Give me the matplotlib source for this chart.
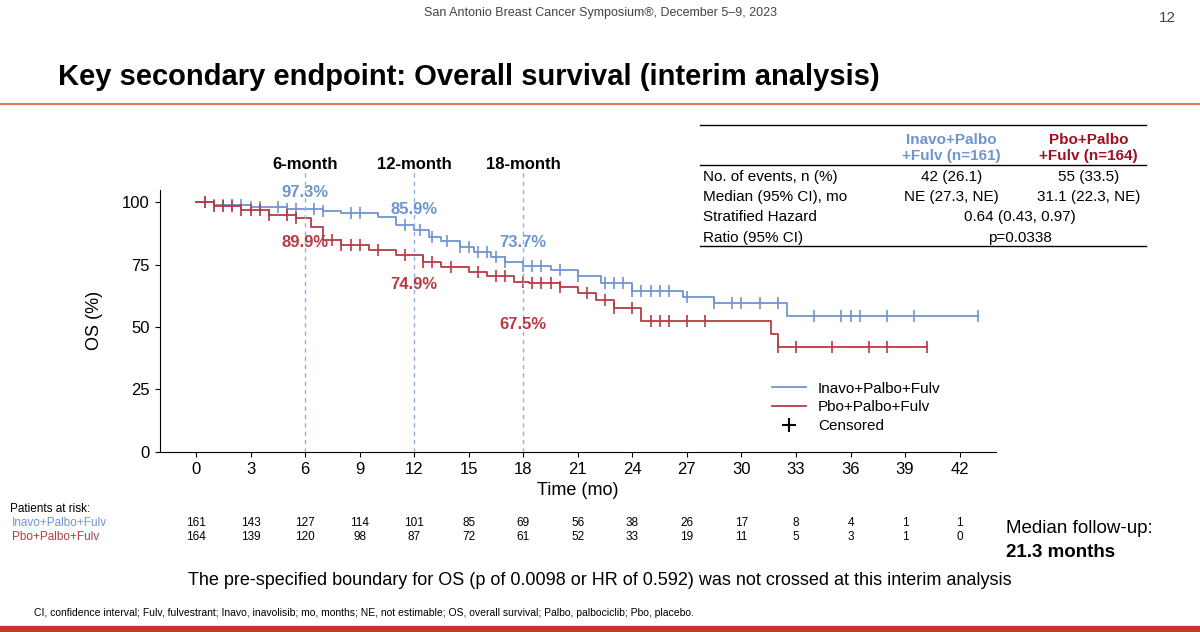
import numpy as np
import matplotlib.pyplot as plt
from matplotlib.lines import Line2D

plt.rcParams["font.family"] = ["Liberation Sans", "DejaVu Sans"]

BLUE = "#6f95cf"
RED = "#b83a44"

# step curves: (time, survival after step)
blue_t = [0, 1, 3, 5, 7, 8, 10, 11, 12, 12.8, 13.5, 14.5, 15.3, 16.2, 17, 18, 19.5, 21, 22.3, 24, 26.8, 28.5, 32.5, 43]
blue_s = [100, 98.8, 98, 97.3, 96.5, 95.5, 94, 91, 89, 86, 84.5, 82, 80, 78, 76, 74.5, 73, 70.5, 67.5, 64.5, 62, 59.5, 54.5, 54.5]
blue_c = [0.5, 1, 1.5, 2, 2.5, 3, 3.5, 4.5, 5, 5.5, 6.5, 7, 8.5, 9, 11.5, 12.3, 13, 13.8, 14.5, 15, 15.5, 16, 16.5, 17, 18, 18.5,
          19, 20, 21, 22.5, 23, 23.5, 24, 24.5, 25, 25.5, 26, 27, 28.5, 29.5, 30, 31, 32, 34, 35.5, 36, 36.5, 38, 39.5, 43]

red_t = [0, 1, 2.5, 4, 5.5, 6.3, 7, 8, 9.5, 11, 12.5, 13.5, 15, 16, 17.5, 18.3, 20, 21, 22, 23, 24.5, 31.6, 32, 40.2]
red_s = [100, 98.5, 97, 95, 93.5, 89.9, 85, 83, 81, 79, 76, 74, 72, 70.5, 68, 67.5, 66, 63.5, 61, 57.5, 52.5, 47, 42, 42]
red_c = [0.5, 1, 1.5, 2, 2.5, 3, 3.5, 4, 5, 5.5, 7.5, 8, 8.5, 9, 10, 11.5, 12.5, 13, 14, 15.5, 16.5, 17, 18, 18.5, 19, 19.5,
         20, 21.5, 22.5, 23, 24, 25, 25.5, 26, 27, 28, 32, 33, 35, 37, 38, 40.2]

landmarks = [6, 12, 18]
blue_lab = ["97.3%", "85.9%", "73.7%"]
red_lab = ["89.9%", "74.9%", "67.5%"]
blue_lab_y = [104, 97, 84]
red_lab_y = [84, 67, 51]

ticks = list(range(0, 43, 3))
risk_blue = [161, 143, 127, 114, 101, 85, 69, 56, 38, 26, 17, 8, 4, 1, 1]
risk_red = [164, 139, 120, 98, 87, 72, 61, 52, 33, 19, 11, 5, 3, 1, 0]


def surv_at(t, ts, ss):
    i = np.searchsorted(ts, t, side="right") - 1
    return ss[max(i, 0)]


fig = plt.figure(figsize=(12, 6.32), dpi=100)
ax = fig.add_axes([0.133, 0.285, 0.697, 0.415])

for ts, ss, cs, col in [(blue_t, blue_s, blue_c, BLUE), (red_t, red_s, red_c, RED)]:
    ax.step(ts, ss, where="post", color=col, lw=1.3)
    ax.plot(cs, [surv_at(c, ts, ss) for c in cs], "|", color=col, ms=8, mew=1.2)

for x, bl, rl, by, ry in zip(landmarks, blue_lab, red_lab, blue_lab_y, red_lab_y):
    ax.axvline(x, ymax=1.1, color="#8fb0e0", ls=(0, (3, 3)), lw=1, clip_on=False)
    ax.text(x, by, bl, color=BLUE, fontsize=12, fontweight="bold", ha="center", va="center")
    ax.text(x, ry, rl, color=RED, fontsize=12, fontweight="bold", ha="center", va="center")
    ax.text(x, 115, f"{x}-month", fontsize=12, fontweight="bold", ha="center", va="center")

ax.set_xlim(-2, 44)
ax.set_ylim(0, 105)
ax.set_xticks(ticks)
ax.set_yticks([0, 25, 50, 75, 100])
ax.tick_params(labelsize=12)
ax.spines[["top", "right"]].set_visible(False)
ax.set_xlabel("Time (mo)", fontsize=13)
ax.set_ylabel("OS (%)", fontsize=13, labelpad=14)

handles = [Line2D([], [], color=BLUE, lw=1.3), Line2D([], [], color=RED, lw=1.3),
           Line2D([], [], color="black", marker="+", ls="", ms=10, mew=1.5)]
ax.legend(handles, ["Inavo+Palbo+Fulv", "Pbo+Palbo+Fulv", "Censored"], loc="lower right",
          bbox_to_anchor=(0.95, 0.02), frameon=False, fontsize=11, handlelength=2.2, labelspacing=0.3)

# risk table
fig.text(0.008, 0.190, "Patients at risk:", fontsize=8.5)
fig.text(0.010, 0.167, "Inavo+Palbo+Fulv", fontsize=8.5, color=BLUE)
fig.text(0.010, 0.146, "Pbo+Palbo+Fulv", fontsize=8.5, color=RED)
for t, b, r in zip(ticks, risk_blue, risk_red):
    xf = ax.transData.transform((t, 0))[0] / fig.bbox.width
    fig.text(xf, 0.167, str(b), fontsize=8.5, ha="center")
    fig.text(xf, 0.146, str(r), fontsize=8.5, ha="center")
fig.text(0.838, 0.157, "Median follow-up:", fontsize=13.5)
fig.text(0.838, 0.118, "21.3 months", fontsize=13.5, fontweight="bold")

# header / footer
fig.text(0.5, 0.975, "San Antonio Breast Cancer Symposium®, December 5–9, 2023", fontsize=9, ha="center", color="#444444")
fig.text(0.98, 0.965, "12", fontsize=11, ha="right", color="#444444")
fig.text(0.048, 0.865, "Key secondary endpoint: Overall survival (interim analysis)", fontsize=21, fontweight="bold")
fig.add_artist(Line2D([0, 1], [0.835, 0.835], color="#e07a5f", lw=1.5))
fig.add_artist(Line2D([0, 1], [0.003, 0.003], color="#c0392b", lw=6))
fig.text(0.5, 0.075, "The pre-specified boundary for OS (p of 0.0098 or HR of 0.592) was not crossed at this interim analysis",
         fontsize=13, ha="center")
fig.text(0.028, 0.025, "CI, confidence interval; Fulv, fulvestrant; Inavo, inavolisib; mo, months; NE, not estimable; "
         "OS, overall survival; Palbo, palbociclib; Pbo, placebo.", fontsize=7.5)

# summary table
x0, x1 = 0.583, 0.955
fig.add_artist(Line2D([x0, x1], [0.802, 0.802], color="black", lw=1))
fig.add_artist(Line2D([x0, x1], [0.739, 0.739], color="black", lw=1))
fig.add_artist(Line2D([x0, x1], [0.610, 0.610], color="black", lw=1))
fig.text(0.793, 0.790, "Inavo+Palbo\n+Fulv (n=161)", fontsize=11, fontweight="bold", color=BLUE, ha="center", va="top")
fig.text(0.907, 0.790, "Pbo+Palbo\n+Fulv (n=164)", fontsize=11, fontweight="bold", color="#a01020", ha="center", va="top")
rows = ["No. of events, n (%)", "Median (95% CI), mo", "Stratified Hazard", "Ratio (95% CI)"]
ys = [0.720, 0.688, 0.656, 0.624]
for lab, y in zip(rows, ys):
    fig.text(0.586, y, lab, fontsize=11, va="center")
fig.text(0.793, ys[0], "42 (26.1)", fontsize=11, ha="center", va="center")
fig.text(0.907, ys[0], "55 (33.5)", fontsize=11, ha="center", va="center")
fig.text(0.793, ys[1], "NE (27.3, NE)", fontsize=11, ha="center", va="center")
fig.text(0.907, ys[1], "31.1 (22.3, NE)", fontsize=11, ha="center", va="center")
fig.text(0.850, ys[2], "0.64 (0.43, 0.97)", fontsize=11, ha="center", va="center")
fig.text(0.850, ys[3], "p=0.0338", fontsize=11, ha="center", va="center")

fig.savefig("out.png", dpi=100)
